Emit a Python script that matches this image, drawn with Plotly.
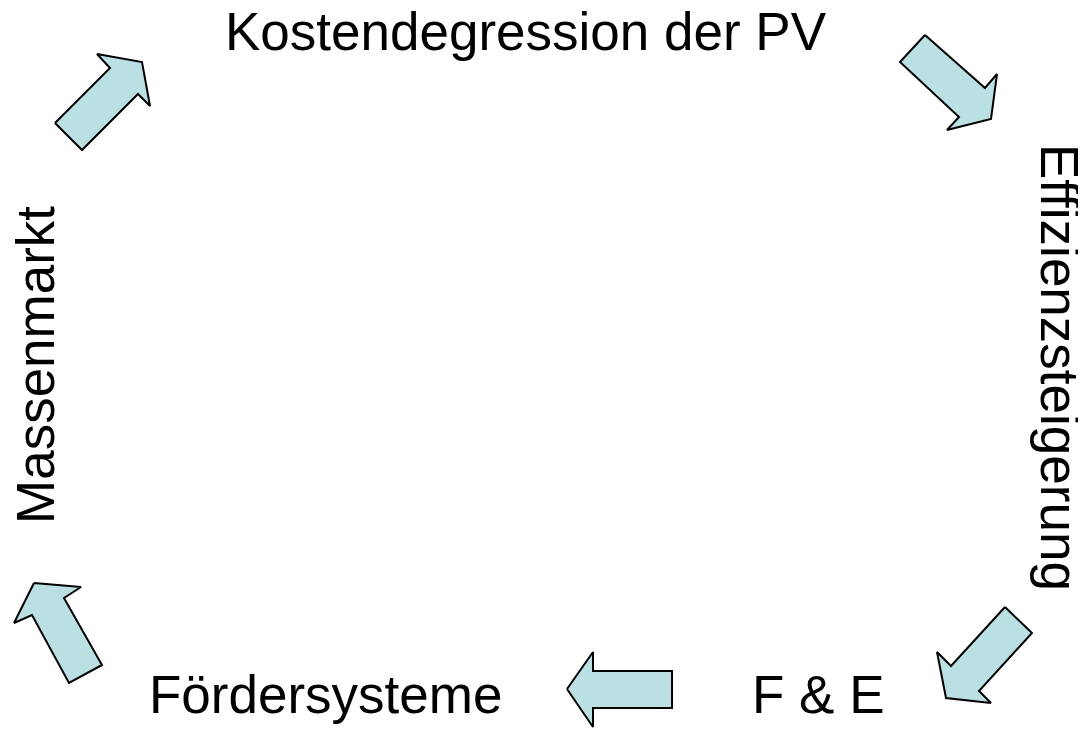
import plotly.graph_objects as go

# Labels of the cycle and their positions (pixel coordinates, y downward)
labels = ["Kostendegression der PV", "Effizienzsteigerung", "F & E", "Fördersysteme", "Massenmarkt"]
label_x = [526, 1060, 818, 325, 35]
label_y = [31, 367, 694, 694, 365]
label_angle = [0, 90, 0, 0, -90]

# Arrow outlines (pixel coordinates, y downward)
arrow_xs = [
    [55, 82, 138, 150, 142, 97, 110, 55],
    [925, 900, 959, 947, 991, 997, 985, 925],
    [1005, 1032, 979, 991, 946, 937, 951, 1005],
    [567, 593, 593, 672, 672, 593, 593, 567],
    [34, 81, 64, 102, 69, 32, 14, 34],
]
arrow_ys = [
    [123, 150, 94, 106, 62, 54, 68, 123],
    [35, 62, 117, 130, 119, 74, 88, 35],
    [607, 633, 691, 703, 698, 652, 666, 607],
    [689, 652, 671, 671, 708, 708, 727, 689],
    [583, 587, 598, 665, 683, 615, 623, 583],
]

W, H = 1086, 733
OFF = 8  # page body margin
fig = go.Figure()
for xs, ys in zip(arrow_xs, arrow_ys):
    fig.add_trace(go.Scatter(
        x=xs, y=ys, mode="lines", fill="toself",
        fillcolor="#BBE0E3", line=dict(color="black", width=2),
        hoverinfo="skip", showlegend=False,
    ))

for t, x, y, a in zip(labels, label_x, label_y, label_angle):
    fig.add_annotation(
        x=x, y=y, text=t, textangle=a, showarrow=False,
        xanchor="center", yanchor="middle",
        font=dict(family="Liberation Sans, Arial", size=53, color="black"),
    )

fig.update_xaxes(range=[OFF, W], visible=False, fixedrange=True)
fig.update_yaxes(range=[H, OFF], visible=False, fixedrange=True)
fig.update_layout(
    width=W - OFF, height=H - OFF, margin=dict(l=0, r=0, t=0, b=0),
    paper_bgcolor="white", plot_bgcolor="white",
)
fig.write_html("out.html")
